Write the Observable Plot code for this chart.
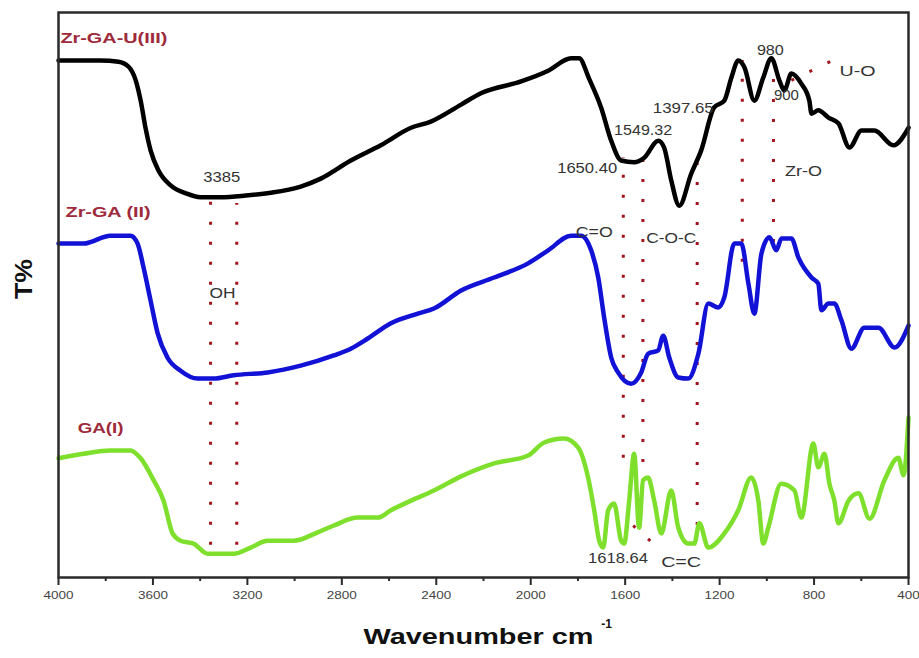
<!DOCTYPE html>
<html>
<head>
<meta charset="utf-8">
<script src="https://cdn.jsdelivr.net/npm/d3@7"></script>
<script src="https://cdn.jsdelivr.net/npm/@observablehq/plot@0.6"></script>
<style>
  html, body { margin: 0; padding: 0; background: #fff; }
  #chart svg { display: block; }
</style>
</head>
<body>
<div id="chart"></div>
<script>
// ---- Series (wavenumber cm-1, relative transmittance, stacked offsets as drawn) ----
const wnIII = [4000,3822,3746,3703,3673,3652,3631,3610,3576,3525,3461,3398,3313,3207,3101,2974,2889,2762,2635,2507,2423,2295,2211,2041,1926,1829,1795,1753,1702,1659,1617,1562,1519,1460,1435,1405,1371,1320,1278,1223,1180,1150,1121,1095,1053,1015,981,947,926,896,854,820,811,782,739,697,650,599,544,464,400];
const tIII  = [91.5,91.5,91.3,90.4,88.0,84.4,79.5,75.6,72.0,69.4,68.0,67.3,67.3,67.6,68.1,69.2,70.6,73.8,76.5,79.6,80.7,83.7,85.7,87.8,89.7,91.9,91.9,88.3,83.2,77.3,73.8,73.5,74.3,77.3,76.1,70.3,65.8,71.5,75.6,83.2,84.4,88.5,91.5,90.3,84.4,88.5,91.9,88.0,86.2,89.2,87.4,84.4,82.1,82.7,81.4,80.4,76.1,79.1,79.1,76.5,79.6];

const wnII = [4000,3894,3780,3695,3665,3640,3610,3580,3538,3483,3411,3343,3258,3114,2974,2834,2762,2690,2592,2478,2410,2295,2155,2011,1926,1829,1787,1744,1714,1689,1659,1630,1575,1532,1503,1460,1439,1413,1375,1333,1290,1248,1206,1180,1138,1108,1078,1053,1023,989,960,938,896,866,811,782,769,739,714,684,642,587,527,459,400];
const tII  = [59.1,59.1,60.5,60.5,59.1,54.9,49.0,43.2,38.9,36.6,35.2,35.2,35.8,36.3,37.5,39.3,40.5,42.3,45.0,46.7,47.6,50.8,53.1,55.6,57.9,60.5,60.5,57.9,53.1,46.0,38.9,36.3,34.3,36.3,39.6,40.2,42.8,38.9,35.4,35.2,39.6,48.5,47.8,49.6,59.1,59.1,52.0,46.7,57.3,60.2,57.9,60.0,60.0,56.6,53.1,52.0,47.3,48.5,48.5,45.5,40.5,44.2,44.2,40.7,44.6];

const wnI = [4000,3894,3780,3695,3652,3597,3555,3517,3483,3428,3368,3258,3186,3114,3004,2902,2834,2732,2647,2592,2507,2410,2295,2155,2011,1943,1859,1799,1757,1731,1710,1693,1672,1647,1617,1604,1583,1562,1541,1524,1503,1477,1447,1405,1375,1333,1307,1286,1248,1180,1121,1066,1036,1015,994,939,883,854,803,782,756,735,714,697,654,612,565,502,443,421,400];
const tI  = [21.1,21.9,22.5,22.5,21.1,17.2,13.6,7.8,6.5,6.0,4.2,4.2,5.3,6.5,6.5,8.0,9.2,10.6,10.6,11.9,13.6,15.4,17.9,20.2,21.6,23.9,24.6,23.0,17.7,11.9,6.5,5.3,11.9,13.1,6.5,6.0,13.6,21.9,8.8,17.2,17.7,13.6,7.8,15.4,8.8,6.0,6.0,9.6,5.3,7.8,11.9,17.7,13.6,6.0,8.8,16.6,15.4,10.6,23.7,19.5,21.9,16.6,13.6,9.6,13.6,14.9,10.4,17.2,21.2,18.1,28.3];

const seriesNames  = ["Zr-GA-U(III)", "Zr-GA (II)", "GA(I)"];
const seriesColors = ["#000000", "#1212d6", "#7ee02c"];
const seriesLabelWn = [3992, 3970, 3919];
const seriesLabelT  = [95.4, 64.6, 26.4];

// ---- Band annotations ----
const annotText = ["3385","1549.32","1650.40","1397.65","980","900","Zr-O","C=O","C-O-C","OH","1618.64","C=C"];
const annotWn   = [3309, 1524, 1761, 1354, 985, 917, 845, 1731, 1405, 3305, 1630, 1363];
const annotT    = [70.8, 79.1, 72.4, 83.0, 93.3, 85.3, 72.0, 61.1, 60.0, 50.4, 3.4, 2.7];
const uoText = "U-O", uoWn = 692, uoT = 89.7;

// dotted guide lines (wavenumber, top, bottom)
const ruleWn     = [3356, 3245, 1608, 1525, 1295, 1104, 972];
const ruleTop    = [66.7, 66.2, 74.3, 73.8, 73.3, 91.5, 91.5];
const ruleBottom = [5.7, 5.7, 21.1, 16.8, 9.2, 55.8, 59.3];
// dotted pointers
const pointerWn1 = [1566, 896], pointerT1 = [9.2, 88.0];
const pointerWn2 = [1481, 722], pointerT2 = [6.0, 91.5];

const majorTicks = [4000,3600,3200,2800,2400,2000,1600,1200,800,400];
const minorTicks = [3800,3400,3000,2600,2200,1800,1400,1000,600];
const xTitle = "Wavenumber cm";
const yTitle = "T%";

// ---- Build tables ----
const lineData = [];
[[wnIII,tIII],[wnII,tII],[wnI,tI]].forEach(([w,t],i) => {
  w.forEach((x,j) => lineData.push({wn: x, T: t[j], series: seriesNames[i]}));
});
const seriesLabels = seriesNames.map((s,i) => ({s, wn: seriesLabelWn[i], T: seriesLabelT[i]}));
const annots = annotText.map((t,i) => ({t, wn: annotWn[i], T: annotT[i]}));
const rules = ruleWn.map((w,i) => ({wn: w, top: ruleTop[i], bottom: ruleBottom[i]}));
const pointers = pointerWn1.map((w,i) => ({w1: w, t1: pointerT1[i], w2: pointerWn2[i], t2: pointerT2[i]}));

const FONT = "'Liberation Sans', Arial, Helvetica, sans-serif";
const RED = "#a3141c";

const chart = Plot.plot({
  width: 919,
  height: 658,
  marginLeft: 58,
  marginRight: 11,
  marginTop: 12,
  marginBottom: 81,
  style: {fontFamily: FONT, background: "#fff", overflow: "visible"},
  x: {domain: [4000, 400]},
  y: {domain: [0, 100], axis: null},
  color: {domain: seriesNames, range: seriesColors},
  marks: [
    Plot.ruleX(rules, {x: "wn", y1: "bottom", y2: "top", stroke: RED, strokeWidth: 3, strokeDasharray: "3,17"}),
    Plot.link(pointers, {x1: "w1", y1: "t1", x2: "w2", y2: "t2", stroke: RED, strokeWidth: 3, strokeDasharray: "3,17"}),
    Plot.line(lineData, {x: "wn", y: "T", z: "series", stroke: "series", strokeWidth: 4.5, strokeLinejoin: "round", curve: "monotone-x"}),
    Plot.frame({stroke: "#2a2a2a", strokeWidth: 2.5}),
    Plot.axisX({ticks: majorTicks, tickSize: 8, tickPadding: 6, fontSize: 11, fill: "#444", stroke: "#2a2a2a", strokeWidth: 2, label: null, tickFormat: d => String(d)}),
    Plot.axisX({ticks: minorTicks, tickSize: 4, stroke: "#2a2a2a", strokeWidth: 2, label: null, tickFormat: () => ""}),
    Plot.text(seriesLabels, {x: "wn", y: "T", text: "s", fill: "#9e2a3b", fontSize: 15, fontWeight: "bold", textAnchor: "start"}),
    Plot.text(annots, {x: "wn", y: "T", text: "t", fill: "#333", fontSize: 15, textAnchor: "middle"}),
    Plot.text([uoText], {x: () => uoWn, y: () => uoT, text: d => d, fill: "#333", fontSize: 15, textAnchor: "start"}),
    Plot.text([xTitle], {frameAnchor: "bottom", text: d => d, dx: -5, dy: 66, fontSize: 22, fontWeight: "bold", fill: "#111"}),
    Plot.text(["-1"], {frameAnchor: "bottom", text: d => d, dx: 123, dy: 50, fontSize: 12, fontWeight: "bold", fill: "#111"}),
    Plot.text([yTitle], {frameAnchor: "left", text: d => d, dx: -34, dy: 4, rotate: -90, fontSize: 24, fontWeight: "bold", fill: "#111"})
  ]
});
// the reference typography is horizontally stretched: fit each text to its measured width
const widths = new Map([
  [xTitle, 230], [yTitle, 40],
  ["Zr-GA-U(III)", 107], ["Zr-GA (II)", 85], ["GA(I)", 46],
  ["3385", 37], ["1549.32", 58], ["1650.40", 60], ["1397.65", 61], ["980", 27], ["900", 25],
  ["U-O", 36], ["Zr-O", 37], ["C=O", 37], ["C-O-C", 50], ["OH", 26], ["1618.64", 60], ["C=C", 40]
]);
const tickSet = new Set(majorTicks.map(String));
d3.select(chart).selectAll("text").each(function() {
  const s = this.textContent;
  let w = widths.get(s);
  if (w === undefined && tickSet.has(s)) { w = 7.5 * s.length; this.setAttribute("font-size", 11); }
  if (w !== undefined) {
    this.setAttribute("textLength", w);
    this.setAttribute("lengthAdjust", "spacingAndGlyphs");
  }
});
document.getElementById("chart").appendChild(chart);
</script>
</body>
</html>
